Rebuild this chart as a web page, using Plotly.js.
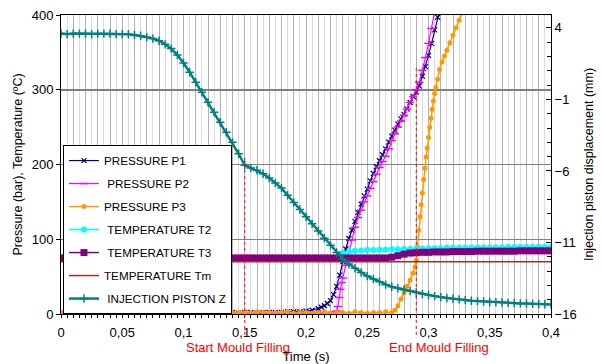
<!DOCTYPE html>
<html>
<head>
<meta charset="utf-8">
<script src="https://cdn.plot.ly/plotly-3.0.1.min.js"></script>
<style>html,body{margin:0;padding:0;background:#fff;}#chart{width:602px;height:364px;}</style>
</head>
<body>
<div id="chart"></div>
<script>
// ---- time bases (s) ----
const tFull = [0,0.005,0.01,0.015,0.02,0.025,0.03,0.035,0.04,0.045,0.05,0.055,0.06,0.065,0.07,0.075,0.08,0.085,0.09,0.095,
  0.1,0.105,0.11,0.115,0.12,0.125,0.13,0.135,0.14,0.145,0.15,0.155,0.16,0.165,0.17,0.175,0.18,0.185,0.19,0.195,
  0.2,0.205,0.21,0.215,0.22,0.225,0.23,0.235,0.24,0.245,0.25,0.255,0.26,0.265,0.27,0.275,0.28,0.285,0.29,0.295,
  0.3,0.305,0.31,0.315,0.32,0.325,0.33,0.335,0.34,0.345,0.35,0.355,0.36,0.365,0.37,0.375,0.38,0.385,0.39,0.395,0.4];

// ---- PRESSURE P1 (bar) ----
const tP1 = tFull.slice(0,43).concat([0.2125,0.215,0.2175,0.22,0.2225,0.225,0.2275,0.23,0.2325,0.235,0.2375,0.24,0.2425,0.245,0.2475,
  0.25,0.2525,0.255,0.2575,0.26,0.2625,0.265,0.2675,0.27,0.2725,0.275,0.2775,0.28,0.2825,0.285,0.2875,0.29,0.2925,0.295,0.2975,
  0.3,0.3025,0.305,0.3075,0.31]);
const vP1 = [1,2,1,2,2,1,2,1,2,2, 1,2,1,1,2,2,1,2,1,2, 2,1,2,2,1,2,1,2,2,1, 2,2,1,2,2,2,2,3,3,3, 4,5,7,
  9,11,14,18,26,37,52,70,87,101,112,124,136,147,158,167,178,188,197,205,213,221,230,238,246,254,261,267,274,283,
  291,297,305,318,331,346,362,380,397,412];

// ---- PRESSURE P2 (bar) ----
const tP2 = tFull.slice(0,45).concat([0.2225,0.225,0.226,0.227,0.228,0.229,0.23,0.2325,0.235,0.2375,0.24,0.2425,0.245,0.2475,
  0.25,0.2525,0.255,0.2575,0.26,0.2625,0.265,0.2675,0.27,0.2725,0.275,0.2775,0.28,0.2825,0.285,0.2875,0.29,0.2925,0.295,0.2975,
  0.3,0.3025,0.305]);
const vP2 = [2,1,2,2,1,2,2,1,2,1, 2,2,1,2,1,2,2,1,2,2, 1,2,1,2,2,1,2,2,1,2, 1,2,2,1,2,2,1,2,2,1, 2,2,1,2,2,
  3,4,10,22,33,42,48,65,83,99,116,129,139,150,158,168,177,187,196,204,211,221,232,241,250,258,266,274,283,291,300,
  310,326,343,362,382,404];

// ---- PRESSURE P3 (bar) ----
const tP3 = tFull.slice(0,55).concat([0.2725,0.275,0.2775,0.28,0.2825,0.285,0.2875,0.289,0.29,0.291,0.292,0.293,0.294,0.295,
  0.296,0.297,0.298,0.299,0.3,0.301,0.302,0.303,0.304,0.305,0.306,0.3075,0.309,0.311,0.313,0.315,0.3175,0.32,0.3225,0.325,0.3275]);
const vP3 = [2,1,3,2,1,2,3,1,2,2, 1,3,2,1,2,2,3,1,2,1, 2,3,1,2,2,1,3,2,1,2, 2,1,3,2,2,1,2,3,1,2, 2,1,2,3,1,2,2,1,3,2, 1,2,2,3,2,
  5,11,20,28,37,45,55,63,72,90,112,130,146,162,180,195,210,222,236,250,262,274,285,295,303,314,327,337,345,353,363,373,383,393,403];

// ---- TEMPERATURE T2 (°C) ----
const tT2 = [0.228].concat(tFull.slice(46));
const vT2 = [80,82,83.5,84.5,85,85.5,85.5,86,86,86.5,86.5,87,87,87.5,87.5,88,88,88,88.5,88.5,88.5,88.5,89,89,89,89,89,89,
  89.5,89.5,89.5,89.5,89.5,90,90,90];

// ---- TEMPERATURE T3 (°C) ----
const tT3 = tFull;
const vT3 = [75,75,75,75,75,75,75,75,75,75, 75,75,75,75,75,75,75,75,75,75, 75,75,75,75,75,75,75,75,75,75,
  75,75,75,75,75,75,75,75,75,75, 75,75,75,75,75,75,75,75,75,75, 75,75,75,75,
  76,78,80,81.5,82,82.5,82.5,83,83,83,83.5,83.5,83.5,83.5,84,84,84,84,84,84,84,84.5,84.5,84.5,84.5,84.5,84.5];

// ---- TEMPERATURE Tm (°C) ----
const tTm = [0,0.1,0.2,0.3,0.4];
const vTm = [70,70,70,70,70];

// ---- INJECTION PISTON Z (mm) ----
const tZ = tFull;
const vZ = [3.6,3.55,3.6,3.6,3.6,3.55,3.6,3.6,3.6,3.55, 3.55,3.55,3.5,3.45,3.35,3.25,3.1,2.85,2.55,2.1,
  1.55,0.9,0.2,-0.5,-1.2,-1.9,-2.6,-3.3,-4.0,-4.8, -5.6,-5.8,-5.95,-6.2,-6.5,-6.85,-7.2,-7.7,-8.2,-8.7,
  -9.2,-9.7,-10.2,-10.7,-11.2,-11.7,-12.15,-12.5,-12.8,-13.1, -13.35,-13.55,-13.75,-13.95,-14.1,-14.2,-14.3,-14.4,-14.5,-14.6,
  -14.67,-14.75,-14.82,-14.88,-14.93,-14.98,-15.03,-15.07,-15.1,-15.13, -15.16,-15.18,-15.2,-15.22,-15.24,-15.26,-15.27,-15.29,-15.3,-15.32,-15.33];

// ---- ticks / labels ----
const xTickVals = [0,0.01,0.02,0.03,0.04,0.05,0.06,0.07,0.08,0.09,0.1,0.11,0.12,0.13,0.14,0.15,0.16,0.17,0.18,0.19,0.2,
  0.21,0.22,0.23,0.24,0.25,0.26,0.27,0.28,0.29,0.3,0.31,0.32,0.33,0.34,0.35,0.36,0.37,0.38,0.39,0.4];
const xTickText = ['0','','','','','0,05','','','','','0,1','','','','','0,15','','','','','0,2',
  '','','','','0,25','','','','','0,3','','','','','0,35','','','','','0,4'];
const fillStart = 0.15, fillEnd = 0.29;
const fillStartTop = 213, fillEndTop = 329;   // bar-axis value where the dotted markers start
const seriesNames = ['PRESSURE P1','\u00a0PRESSURE P2','PRESSURE P3','\u00a0TEMPERATURE T2','\u00a0TEMPERATURE T3','TEMPERATURE Tm','\u00a0INJECTION PISTON Z'];

const FONT = 'Liberation Sans, Arial, sans-serif';

const traces = [
  {x:tP1, y:vP1, name:seriesNames[0], mode:'lines+markers', line:{color:'#000080',width:1.2},
   marker:{symbol:'x-thin-open',size:5,color:'#000080',line:{width:1.2,color:'#000080'}}},
  {x:tP2, y:vP2, name:seriesNames[1], mode:'lines+markers', line:{color:'#ff00ff',width:1.2},
   marker:{symbol:'line-ew-open',size:6,color:'#ff00ff',line:{width:1.5,color:'#ff00ff'}}},
  {x:tP3, y:vP3, name:seriesNames[2], mode:'lines+markers', line:{color:'#ff9900',width:1.5},
   marker:{symbol:'circle',size:5,color:'#ff9900'}},
  {x:tT2, y:vT2, name:seriesNames[3], mode:'lines+markers', line:{color:'#00ffff',width:1.5},
   marker:{symbol:'circle',size:6,color:'#00ffff'}},
  {x:tT3, y:vT3, name:seriesNames[4], mode:'lines+markers', line:{color:'#800080',width:1.5},
   marker:{symbol:'square',size:7,color:'#800080'}},
  {x:tTm, y:vTm, name:seriesNames[5], mode:'lines', line:{color:'#a03030',width:1.5}},
  {x:tZ, y:vZ, name:seriesNames[6], yaxis:'y2', mode:'lines+markers', line:{color:'#008080',width:2.5},
   marker:{symbol:'cross-thin-open',size:6,color:'#008080',line:{width:1.5,color:'#008080'}}}
];
traces.forEach((t,i)=>{ t.legendgroup='g'+i; });

const layout = {
  width:602, height:364,
  margin:{l:61, r:51, t:15, b:50},
  paper_bgcolor:'#ffffff', plot_bgcolor:'#ffffff',
  font:{family:FONT, size:13, color:'#000'},
  showlegend:true,
  legend:{x:0.004, y:0.565, xanchor:'left', yanchor:'top', bgcolor:'#ffffff', bordercolor:'#000000', borderwidth:1,
    font:{family:FONT, size:11.7, color:'#000'}, tracegroupgap:4, itemwidth:30},
  xaxis:{range:[0,0.4], tickmode:'array', tickvals:xTickVals, ticktext:xTickText,
    showgrid:true, gridcolor:'#b0b0b0', gridwidth:1, zeroline:false,
    showline:true, linecolor:'#000', linewidth:1, mirror:true,
    ticks:'outside', ticklen:3, tickcolor:'#000', ticklabelstandoff:3,
    minor:{dtick:0.005, tick0:0, showgrid:true, gridcolor:'#dcdcdc', ticks:'outside', ticklen:3, tickcolor:'#000'},
    tickfont:{size:13}, title:{text:'Time (s)', font:{size:13}, standoff:14}},
  yaxis:{range:[0,400], tickmode:'linear', tick0:0, dtick:100, showgrid:true, gridcolor:'#808080', gridwidth:1.5,
    zeroline:false, showline:true, linecolor:'#000', linewidth:1, ticks:'outside', ticklen:4, tickcolor:'#000',
    tickfont:{size:13}, title:{text:'Pressure (bar), Temperature (ºC)', font:{size:12.5}, standoff:6}},
  yaxis2:{overlaying:'y', side:'right', range:[-16,4.9], tickmode:'linear', tick0:-16, dtick:5,
    showgrid:false, zeroline:false, showline:true, linecolor:'#000', linewidth:1,
    ticks:'inside', ticklen:5, tickcolor:'#000',
    minor:{dtick:1, tick0:-16, ticks:'inside', ticklen:4, tickcolor:'#000', showgrid:false},
    tickfont:{size:13}, title:{text:'Injection piston displacement (mm)', font:{size:12.5}, standoff:8}},
  shapes:[
    {type:'line', xref:'x', yref:'paper', x0:fillStart, x1:fillStart, y0:-0.07, y1:fillStartTop/400,
     line:{color:'#ff0000', width:1, dash:'dot'}},
    {type:'line', xref:'x', yref:'paper', x0:fillEnd, x1:fillEnd, y0:-0.07, y1:fillEndTop/400,
     line:{color:'#ff0000', width:1, dash:'dot'}}
  ],
  annotations:[
    {text:'Start Mould Filling', xref:'x', yref:'paper', x:fillStart-0.0055, y:-0.113, showarrow:false,
     xanchor:'center', yanchor:'middle', font:{family:FONT, size:13, color:'#ff0000'}},
    {text:'End Mould Filling', xref:'x', yref:'paper', x:fillEnd+0.0186, y:-0.113, showarrow:false,
     xanchor:'center', yanchor:'middle', font:{family:FONT, size:13, color:'#ff0000'}}
  ]
};

Plotly.newPlot('chart', traces, layout, {displayModeBar:false, staticPlot:true});
</script>
</body>
</html>
